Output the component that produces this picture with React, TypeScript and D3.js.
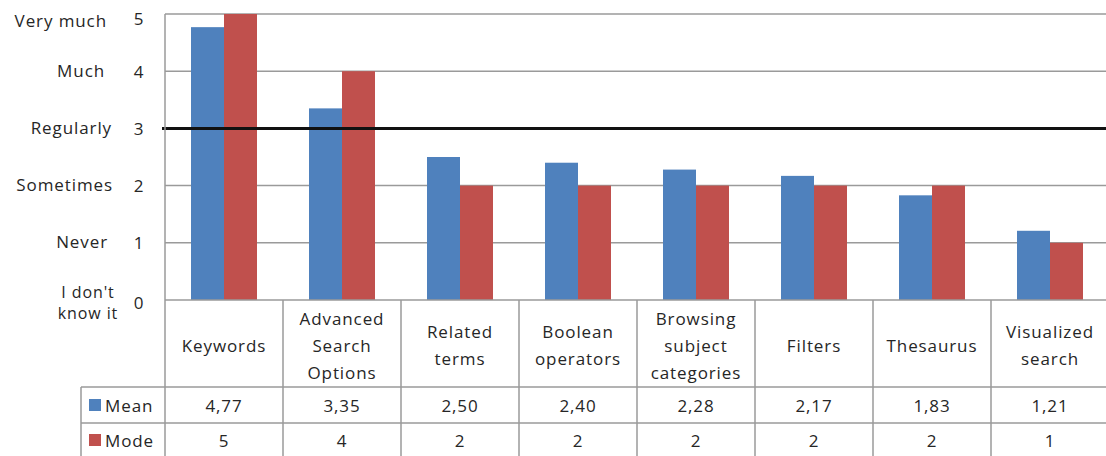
import React from "react";
import * as d3 from "d3";

const categories: string[][] = [
  ["Keywords"],
  ["Advanced", "Search", "Options"],
  ["Related", "terms"],
  ["Boolean", "operators"],
  ["Browsing", "subject", "categories"],
  ["Filters"],
  ["Thesaurus"],
  ["Visualized", "search"],
];
const meanValues = [4.77, 3.35, 2.5, 2.4, 2.28, 2.17, 1.83, 1.21];
const modeValues = [5, 4, 2, 2, 2, 2, 2, 1];
const meanLabels = ["4,77", "3,35", "2,50", "2,40", "2,28", "2,17", "1,83", "1,21"];
const seriesNames = ["Mean", "Mode"];
const seriesColors = ["#4F81BD", "#C0504D"];
const yTicks = [0, 1, 2, 3, 4, 5];
const yTickNames: { v: number; lines: string[]; right: number }[] = [
  { v: 5, lines: ["Very much"], right: 107 },
  { v: 4, lines: ["Much"], right: 105 },
  { v: 3, lines: ["Regularly"], right: 112 },
  { v: 2, lines: ["Sometimes"], right: 113 },
  { v: 1, lines: ["Never"], right: 108 },
  { v: 0, lines: ["I don't", "know it"], right: 120 },
];
const threshold = 3;

const W = 1106;
const H = 456;
const FONT = "'Open Sans', sans-serif";
const FS = 17;
const LS = 0.9;
const TEXT = "#262626";
const GRID = "#9a9a9a";

export default function App() {
  const plotLeft = 165;
  const colW = 118;
  const plotRight = plotLeft + colW * categories.length;
  const x0 = d3
    .scaleBand<number>()
    .domain(d3.range(categories.length))
    .range([plotLeft, plotRight])
    .padding(0);
  const x1 = d3.scaleBand<number>().domain([0, 1]).range([26, 92]).padding(0);
  const y = d3.scaleLinear().domain([0, 5]).range([300, 14]);

  const headerTop = y(0);
  const headerBottom = 387;
  const meanBottom = 423;
  const modeBottom = 459;
  const legendLeft = 81;

  const series = [meanValues, modeValues];
  const rowTexts = [meanLabels, modeValues.map(String)];
  const rowCenters = [(headerBottom + meanBottom) / 2, (meanBottom + modeBottom) / 2 - 1];

  return (
    <svg
      width={W}
      height={H}
      style={{ position: "absolute", left: 0, top: 0, background: "#fff" }}
      fontFamily={FONT}
      fontSize={FS}
      letterSpacing={LS}
    >
      {/* gridlines */}
      {yTicks
        .filter((t) => t > 0)
        .map((t) => (
          <line key={t} x1={plotLeft} x2={W} y1={y(t)} y2={y(t)} stroke={GRID} strokeWidth={1.5} />
        ))}
      {/* bars */}
      {series.map((vals, si) =>
        vals.map((v, i) => (
          <rect
            key={`${si}-${i}`}
            x={(x0(i) as number) + (x1(si) as number)}
            y={y(v)}
            width={x1.bandwidth()}
            height={y(0) - y(v)}
            fill={seriesColors[si]}
          />
        ))
      )}
      {/* threshold line */}
      <line x1={plotLeft - 3} x2={W} y1={y(threshold)} y2={y(threshold)} stroke="#111" strokeWidth={3} />
      {/* axis line */}
      <line x1={plotLeft} x2={plotLeft} y1={y(5)} y2={modeBottom} stroke={GRID} strokeWidth={1.5} />
      {/* table lines */}
      <line x1={plotLeft} x2={W} y1={headerTop} y2={headerTop} stroke={GRID} strokeWidth={1.5} />
      <line x1={legendLeft} x2={W} y1={headerBottom} y2={headerBottom} stroke={GRID} strokeWidth={1.5} />
      <line x1={legendLeft} x2={W} y1={meanBottom} y2={meanBottom} stroke={GRID} strokeWidth={1.5} />
      <line x1={legendLeft} x2={legendLeft} y1={headerBottom} y2={modeBottom} stroke={GRID} strokeWidth={1.5} />
      {categories.map((_, i) => (
        <line
          key={i}
          x1={(x0(i) as number) + colW}
          x2={(x0(i) as number) + colW}
          y1={headerTop}
          y2={modeBottom}
          stroke={GRID}
          strokeWidth={1.5}
        />
      ))}
      {/* y tick numbers */}
      {yTicks.map((t) => (
        <text
          key={t}
          x={139}
          y={t === 0 ? y(t) + 2 : Math.max(y(t), 18)}
          textAnchor="middle"
          dominantBaseline="central"
          fill={TEXT}
        >
          {t}
        </text>
      ))}
      {/* y tick names */}
      {yTickNames.map((d) => {
        const multi = d.lines.length > 1;
        const cy = d.v === 0 ? y(0) + 2 : d.v === 5 ? y(5) + 6 : y(d.v) - 1;
        const lh = 21;
        return d.lines.map((l, k) => (
          <text
            key={`${d.v}-${k}`}
            x={multi ? d.right - 32 : d.right}
            y={cy - ((d.lines.length - 1) * lh) / 2 + k * lh}
            textAnchor={multi ? "middle" : "end"}
            dominantBaseline="central"
            fontSize={multi ? 16 : FS}
            fill={TEXT}
          >
            {l}
          </text>
        ));
      })}
      {/* category labels */}
      {categories.map((lines, i) => {
        const cx = (x0(i) as number) + colW / 2;
        const cy = (headerTop + headerBottom) / 2 + 1;
        const lh = 27;
        const start = cy - ((lines.length - 1) * lh) / 2;
        return (
          <text key={i} textAnchor="middle" dominantBaseline="central" fill={TEXT}>
            {lines.map((l, k) => (
              <tspan key={k} x={cx} y={start + k * lh}>
                {l}
              </tspan>
            ))}
          </text>
        );
      })}
      {/* data table rows */}
      {rowTexts.map((row, si) => (
        <g key={si}>
          <rect x={89} y={rowCenters[si] - 6} width={12} height={12} fill={seriesColors[si]} />
          <text x={105} y={rowCenters[si]} dominantBaseline="central" fill={TEXT}>
            {seriesNames[si]}
          </text>
          {row.map((t, i) => (
            <text
              key={i}
              x={(x0(i) as number) + colW / 2}
              y={rowCenters[si]}
              textAnchor="middle"
              dominantBaseline="central"
              fill={TEXT}
            >
              {t}
            </text>
          ))}
        </g>
      ))}
    </svg>
  );
}
